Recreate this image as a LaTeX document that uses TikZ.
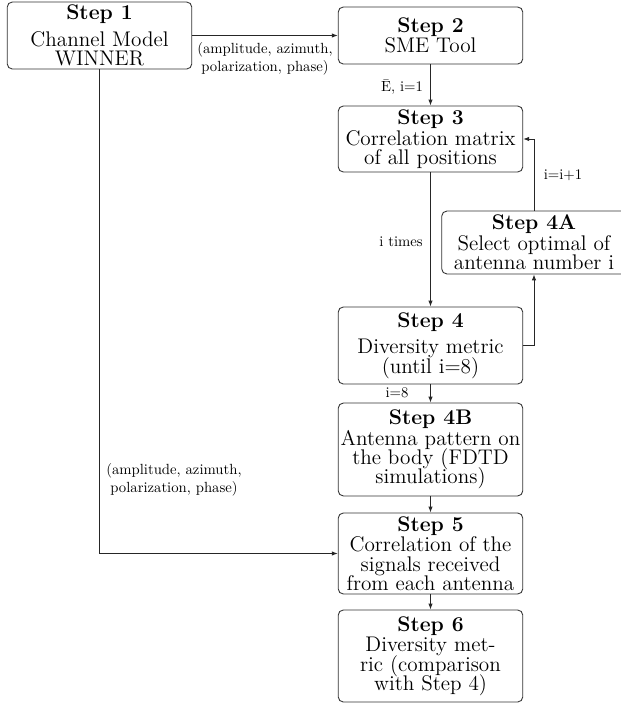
\documentclass[tikz,border=0pt]{standalone}
\usetikzlibrary{arrows.meta}
\newcommand\bxfont{\Large\baselineskip=13pt\lineskiplimit=-20pt\lineskip=0pt}
\begin{document}
\begin{tikzpicture}[x=0.68pt,y=-0.68pt,
  box/.style={draw=black!80,line width=0.6pt,rounded corners=3.5pt,align=center,
    minimum width=125.5pt,inner xsep=1pt,inner ysep=0pt,font=\bxfont},
  conn/.style={draw=black!85,line width=0.6pt,-{Latex[length=4pt,width=3pt]}},
  lbl/.style={font=\normalsize,align=center,inner sep=0pt}]
\useasboundingbox (0,0) rectangle (621,704);
\clip (0,0) rectangle (621,704);
\node[box,minimum height=45.6pt] (s1) at (99.5,35.5) {\textbf{Step 1}\\[5pt]Channel Model\\WINNER};
\node[box,minimum height=38.8pt] (s2) at (430.5,35.5) {\textbf{Step 2}\\[1pt]SME Tool};
\node[box,minimum height=44.9pt] (s3) at (430.5,139) {\textbf{Step 3}\\[1pt]Correlation matrix\\of all positions};
\node[box,minimum height=42.8pt] (s4a) at (534,242.5) {\textbf{Step 4A}\\[1pt]Select optimal of\\antenna number i};
\node[box,minimum height=52.4pt] (s4) at (430.5,345.5) {\textbf{Step 4}\\[5pt]Diversity metric\\(until i=8)};
\node[box,minimum height=63.2pt] (s4b) at (430.5,449.5) {\textbf{Step 4B}\\[1pt]Antenna pattern on\\the body (FDTD\\simulations)};
\node[box,minimum height=55.1pt] (s5) at (430.5,553.5) {\textbf{Step 5}\\[1pt]Correlation of the\\signals received\\from each antenna};
\node[box,minimum height=62.6pt] (s6) at (430.5,656) {\textbf{Step 6}\\[1pt]Diversity met-\\ric (comparison\\with Step 4)};
\node[lbl] (l1) at (265,59) {(amplitude, azimuth,\\polarization, phase)};
\node[lbl] (l2) at (174,480) {(amplitude, azimuth,\\polarization, phase)};
\node[lbl] (l3) at (402,87) {\=E, i=1};
\node[lbl] (l4) at (401,242) {i times};
\node[lbl] (l5) at (563,175) {i=i+1};
\node[lbl] (l6) at (397,393) {i=8};
\draw[conn] (s1.east) -- (s1.east -| s2.west);
\draw[conn] (s2) -- (s3);
\draw[conn] (s3) -- (s4);
\draw[conn] (s4.east) -| (s4a.south);
\draw[conn] (s4a.north) |- (s3.east);
\draw[conn] (s4) -- (s4b);
\draw[conn] (s4b) -- (s5);
\draw[conn] (s5) -- (s6);
\draw[conn] (s1.south) |- (s5.west);
\end{tikzpicture}
\end{document}
